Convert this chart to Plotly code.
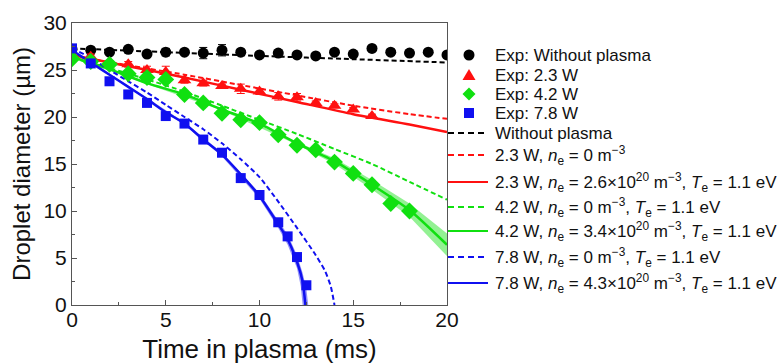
import plotly.graph_objects as go

# ---------------- data ----------------
black_t = list(range(0, 21))
black_d = [27.2, 27.1, 26.9, 27.2, 26.7, 26.9, 26.9, 26.8, 27.1, 26.9, 26.6,
           26.8, 26.6, 26.5, 26.9, 26.7, 27.3, 26.9, 26.8, 26.9, 26.6]
black_err = [0.2, 0.3, 0.2, 0.2, 0.2, 0.4, 0.2, 0.6, 0.6, 0.2, 0.2,
             0.3, 0.2, 0.2, 0.2, 0.2, 0.2, 0.3, 0.2, 0.2, 0.2]

red_t = list(range(0, 17))
red_d = [26.6, 26.4, 25.8, 25.6, 25.0, 24.8, 23.9, 23.6, 23.3, 23.0, 22.7,
         22.2, 22.1, 21.5, 21.2, 20.8, 20.1]
red_err = [0.2, 0.3, 0.2, 0.3, 0.4, 0.6, 0.3, 0.3, 0.2, 0.5, 0.3,
           0.4, 0.4, 0.2, 0.2, 0.2, 0.2]

green_t = list(range(0, 19))
green_d = [26.2, 25.9, 25.6, 24.6, 24.2, 24.0, 22.4, 21.5, 20.4, 19.7, 19.4,
           18.1, 17.0, 16.5, 15.2, 14.0, 12.8, 10.8, 10.0]
green_err = [0.2, 0.2, 0.2, 0.2, 0.5, 0.3, 0.2, 0.2, 0.2, 0.2, 0.2,
             0.2, 0.2, 0.2, 0.2, 0.2, 0.2, 0.2, 0.2]

blue_t = [0, 1, 2, 3, 4, 5, 6, 7, 8, 9, 10, 11, 11.5, 12, 12.5]
blue_d = [27.3, 25.7, 23.8, 22.4, 21.5, 20.1, 19.3, 17.6, 16.2, 13.5, 11.7,
          8.8, 7.3, 5.1, 2.1]

# model curves
fit_black_t = [0, 5, 10, 15, 20]
fit_black_d = [27.3, 26.9, 26.5, 26.15, 25.8]

fit_red0_t = [0, 3, 6, 9, 12, 15, 18, 20]
fit_red0_d = [26.5, 25.5, 24.5, 23.4, 22.3, 21.2, 20.3, 19.8]
fit_red_t = [0, 3, 6, 9, 12, 15, 18, 20]
fit_red_d = [26.6, 25.4, 24.2, 22.9, 21.6, 20.3, 19.2, 18.4]

fit_green0_t = [0, 2, 4, 6, 8, 10, 12, 14, 16, 18, 20]
fit_green0_d = [26.3, 25.2, 24.0, 22.7, 21.2, 19.7, 18.2, 16.6, 15.0, 13.1, 11.2]
fit_green_t = [0, 2, 4, 6, 8, 10, 12, 14, 16, 18, 20]
fit_green_d = [26.4, 25.1, 23.6, 22.4, 20.8, 19.3, 17.2, 15.3, 12.8, 10.1, 6.4]
band_green_t = [0, 4, 8, 12, 14, 16, 18, 20]
band_green_hi = [26.5, 23.7, 20.9, 17.35, 15.6, 13.3, 10.8, 7.6]
band_green_lo = [26.3, 23.5, 20.7, 17.05, 15.0, 12.3, 9.4, 5.2]

fit_blue0_t = [0, 1, 2, 3, 4, 5, 6, 7, 8, 9, 10, 11, 12, 13, 13.5, 13.8, 14.0]
fit_blue0_d = [27.3, 26.3, 25.0, 23.8, 22.6, 21.3, 20.0, 18.7, 17.2, 15.5, 13.6,
               11.0, 8.2, 5.3, 3.6, 2.0, 0.0]
fit_blue_t = [0, 1, 2, 3, 4, 5, 6, 7, 8, 9, 10, 11, 11.5, 12, 12.3, 12.45]
fit_blue_d = [27.1, 25.8, 24.5, 23.2, 21.9, 20.5, 19.3, 17.6, 16.0, 13.9, 11.6,
              8.6, 7.0, 4.6, 2.5, 0.0]
band_blue_hi_t = [0, 2, 4, 6, 8, 10, 11, 11.5, 12, 12.3, 12.5, 12.6]
band_blue_hi_d = [27.2, 24.6, 22.0, 19.45, 16.2, 11.9, 9.0, 7.5, 5.3, 3.4, 1.7, 0.0]
band_blue_lo_t = [0, 2, 4, 6, 8, 10, 11, 11.5, 12, 12.2, 12.3]
band_blue_lo_d = [27.0, 24.4, 21.8, 19.15, 15.8, 11.3, 8.2, 6.4, 3.9, 2.0, 0.0]

x_ticks = [0, 5, 10, 15, 20]
y_ticks = [0, 5, 10, 15, 20, 25, 30]

ne = "<i>n</i><sub>e</sub>"
te = "<i>T</i><sub>e</sub>"
legend_labels = [
    "Exp: Without plasma",
    "Exp: 2.3 W",
    "Exp: 4.2 W",
    "Exp: 7.8 W",
    "Without plasma",
    f"2.3 W, {ne} = 0 m<sup>−3</sup>",
    f"2.3 W, {ne} = 2.6×10<sup>20</sup> m<sup>−3</sup>, {te} = 1.1 eV",
    f"4.2 W, {ne} = 0 m<sup>−3</sup>, {te} = 1.1 eV",
    f"4.2 W, {ne} = 3.4×10<sup>20</sup> m<sup>−3</sup>, {te} = 1.1 eV",
    f"7.8 W, {ne} = 0 m<sup>−3</sup>, {te} = 1.1 eV",
    f"7.8 W, {ne} = 4.3×10<sup>20</sup> m<sup>−3</sup>, {te} = 1.1 eV",
]

# ---------------- styles / layout geometry ----------------
BLACK = "#000000"
RED = "#ff1010"
GREEN = "#10e010"
BLUE = "#1010f0"
FONT = "Liberation Sans, Arial, sans-serif"
DASH = "5px,3px"

W, H = 783, 364
L, R, T, B = 72, 447, 23, 305          # plot area in pixels
def px(xp):
    return (xp - L) / (R - L)
def py(yp):
    return (B - yp) / (B - T)

fig = go.Figure()

# uncertainty bands
fig.add_trace(go.Scatter(
    x=band_green_t + band_green_t[::-1], y=band_green_hi + band_green_lo[::-1],
    fill="toself", fillcolor="rgba(16,224,16,0.45)", line=dict(width=0),
    mode="lines", showlegend=False, hoverinfo="skip"))
fig.add_trace(go.Scatter(
    x=band_blue_hi_t + band_blue_lo_t[::-1], y=band_blue_hi_d + band_blue_lo_d[::-1],
    fill="toself", fillcolor="rgba(16,16,240,0.45)", line=dict(width=0),
    mode="lines", showlegend=False, hoverinfo="skip"))

# model lines
model = [
    (fit_black_t, fit_black_d, BLACK, DASH),
    (fit_red0_t, fit_red0_d, RED, DASH),
    (fit_red_t, fit_red_d, RED, "solid"),
    (fit_green0_t, fit_green0_d, GREEN, DASH),
    (fit_green_t, fit_green_d, GREEN, "solid"),
    (fit_blue0_t, fit_blue0_d, BLUE, DASH),
    (fit_blue_t, fit_blue_d, BLUE, "solid"),
]
for (t, d, c, dash), name in zip(model, legend_labels[4:]):
    fig.add_trace(go.Scatter(
        x=t, y=d, mode="lines", name=name, showlegend=False,
        line=dict(color=c, width=2.5 if dash == "solid" else 2, dash=dash,
                  shape="spline", smoothing=0.6)))

# experimental points
exps = [
    (black_t, black_d, black_err, BLACK, "circle", 11),
    (red_t, red_d, red_err, RED, "triangle-up", 12),
    (green_t, green_d, green_err, GREEN, "diamond", 13),
    (blue_t, blue_d, None, BLUE, "square", 10),
]
for (t, d, e, c, sym, sz), name in zip(exps, legend_labels[:4]):
    fig.add_trace(go.Scatter(
        x=t, y=d, mode="markers", name=name, showlegend=False,
        marker=dict(color=c, symbol=sym, size=sz, line=dict(width=0)),
        error_y=dict(type="data", array=e, visible=e is not None,
                     color=c, thickness=1, width=4)))

# ---------------- hand-built legend (outside plot, paper coords) ----------------
row_y = [55, 75, 94, 113, 133, 155, 182, 207, 231, 257, 283]
sym_x = 469
line_x0, line_x1 = 448, 488
text_x = 493
glyphs = [
    ("circle", BLACK), ("triangle", RED), ("diamond", GREEN), ("square", BLUE),
    ("dash", BLACK), ("dash", RED), ("solid", RED), ("dash", GREEN),
    ("solid", GREEN), ("dash", BLUE), ("solid", BLUE),
]
shapes = []
annotations = []
for label, (kind, col), yy in zip(legend_labels, glyphs, row_y):
    anc = dict(xref="paper", yref="paper", xsizemode="pixel", ysizemode="pixel",
               xanchor=px(sym_x), yanchor=py(yy), fillcolor=col,
               line=dict(width=0), layer="above")
    if kind == "circle":
        shapes.append(dict(type="circle", x0=-5.5, x1=5.5, y0=-5.5, y1=5.5, **anc))
    elif kind == "triangle":
        shapes.append(dict(type="path", path="M -6.5,-5 L 6.5,-5 L 0,6 Z", **anc))
    elif kind == "diamond":
        shapes.append(dict(type="path", path="M -6.5,0 L 0,6.5 L 6.5,0 L 0,-6.5 Z", **anc))
    elif kind == "square":
        shapes.append(dict(type="rect", x0=-5, x1=5, y0=-5, y1=5, **anc))
    else:
        shapes.append(dict(type="line", xref="paper", yref="paper",
                           x0=px(line_x0), x1=px(line_x1 if kind == "solid" else line_x1 - 2),
                           y0=py(yy), y1=py(yy), layer="above",
                           line=dict(color=col, width=2,
                                     dash="solid" if kind == "solid" else "6px,4px")))
    annotations.append(dict(
        text=label, xref="paper", yref="paper", x=px(text_x), y=py(yy),
        xanchor="left", yanchor="middle", showarrow=False,
        font=dict(family=FONT, size=17, color="#111111")))

axis_common = dict(
    showline=True, linecolor="#555555", linewidth=1, mirror=True,
    ticks="inside", ticklen=5, tickcolor="#555555", showgrid=False,
    zeroline=False, tickfont=dict(family=FONT, size=21, color="#111111"),
    minor=dict(ticks="inside", ticklen=3, tickcolor="#555555", showgrid=False),
    automargin=False,
)

fig.update_layout(
    width=W, height=H,
    margin=dict(l=L, r=W - R, t=T, b=H - B, autoexpand=False),
    paper_bgcolor="white", plot_bgcolor="white",
    font=dict(family=FONT, color="#111111"),
    showlegend=False,
    xaxis=dict(range=[0, 20], tickvals=x_ticks, minor_dtick=2.5,
               ticklabelstandoff=-4,
               title=dict(text="Time in plasma (ms)", standoff=20,
                          font=dict(family=FONT, size=26)),
               **axis_common),
    yaxis=dict(range=[0, 30], tickvals=y_ticks, minor_dtick=2.5,
               title=dict(text="Droplet diameter (µm)", standoff=6,
                          font=dict(family=FONT, size=24)),
               **axis_common),
    shapes=shapes,
    annotations=annotations,
)

fig.write_html("out.html")
